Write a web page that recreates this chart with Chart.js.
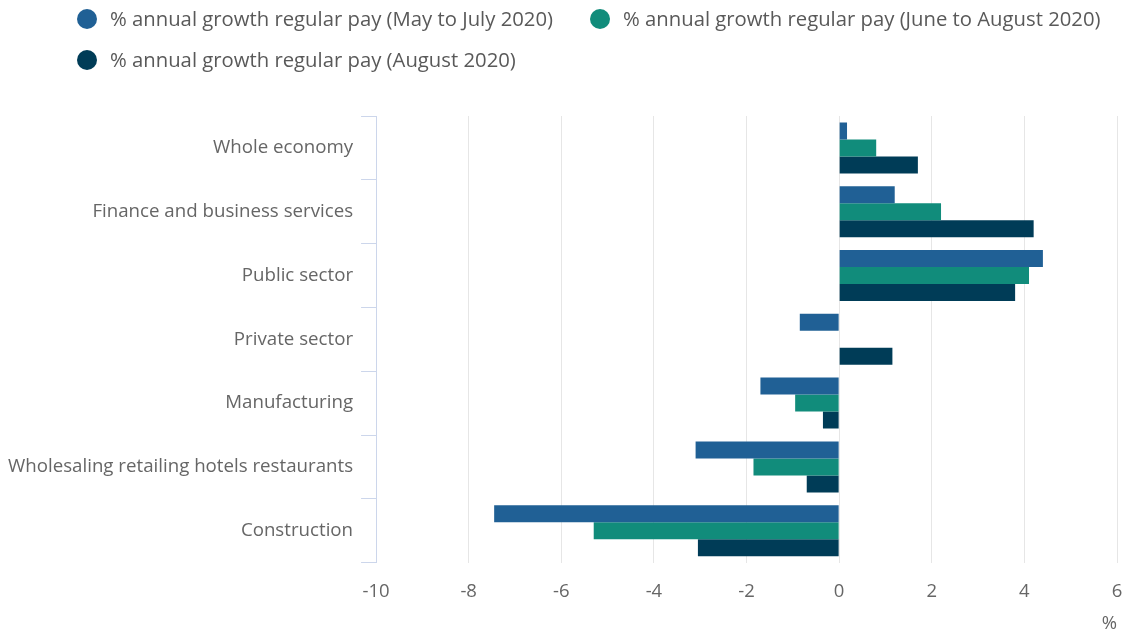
<!DOCTYPE html>
<html>
<head>
<meta charset="utf-8">
<script src="https://cdn.jsdelivr.net/npm/chart.js@4/dist/chart.umd.min.js"></script>
<style>
  html, body { margin: 0; padding: 0; background: #fff; }
  #wrap { width: 1126px; height: 635px; }
</style>
</head>
<body>
<div id="wrap"><canvas id="payChart"></canvas></div>
<script>
const sectors = [
  "Whole economy",
  "Finance and business services",
  "Public sector",
  "Private sector",
  "Manufacturing",
  "Wholesaling retailing hotels restaurants",
  "Construction"
];
const mayToJuly = [0.17, 1.2, 4.4, -0.85, -1.7, -3.1, -7.45];
const juneToAugust = [0.8, 2.2, 4.1, null, -0.95, -1.85, -5.3];
const august = [1.7, 4.2, 3.8, 1.15, -0.35, -0.7, -3.05];
const xTicks = [-10, -8, -6, -4, -2, 0, 2, 4, 6];

const FONT = "'Open Sans', sans-serif";
const TEXT = "#666666";

// legend drawn by hand: round markers, wide gaps between items, wraps to a new row
const dotLegend = {
  id: "dotLegend",
  afterDraw(chart, args, opts) {
    const ctx = chart.ctx;
    ctx.save();
    ctx.font = `${opts.fontSize}px ${FONT}`;
    ctx.textBaseline = "middle";
    let x = opts.x;
    let y = opts.y;
    chart.data.datasets.forEach((ds, i) => {
      const w = opts.textOffset + ctx.measureText(ds.label).width;
      if (i > 0 && x + w > chart.width - 10) {
        x = opts.x;
        y += opts.rowHeight;
      }
      ctx.beginPath();
      ctx.arc(x, y, opts.radius, 0, Math.PI * 2);
      ctx.fillStyle = ds.backgroundColor;
      ctx.fill();
      ctx.fillStyle = opts.color;
      ctx.fillText(ds.label, x + opts.textOffset, y + 1);
      x += w + opts.gap;
    });
    ctx.restore();
  }
};

new Chart(document.getElementById("payChart"), {
  type: "bar",
  data: {
    labels: sectors,
    datasets: [
      { label: "% annual growth regular pay (May to July 2020)", data: mayToJuly, backgroundColor: "#206095" },
      { label: "% annual growth regular pay (June to August 2020)", data: juneToAugust, backgroundColor: "#118c7b" },
      { label: "% annual growth regular pay (August 2020)", data: august, backgroundColor: "#003c57" }
    ]
  },
  options: {
    indexAxis: "y",
    responsive: true,
    maintainAspectRatio: false,
    animation: false,
    categoryPercentage: 0.8,
    barPercentage: 1,
    layout: { padding: { left: 0, right: 9, top: 116, bottom: 0 } },
    scales: {
      x: {
        min: xTicks[0],
        max: xTicks[xTicks.length - 1],
        afterBuildTicks: axis => { axis.ticks = xTicks.map(v => ({ value: v })); },
        // invisible tick marks keep the labels clear of the plot
        grid: { color: "#e6e6e6", tickLength: 18, tickColor: "rgba(0,0,0,0)" },
        border: { display: false },
        ticks: { color: TEXT, font: { family: FONT, size: 18.5 }, padding: 0 },
        title: {
          display: true, text: "%", align: "end",
          color: TEXT, font: { family: FONT, size: 18.5 }, padding: { top: 10, bottom: 0 }
        }
      },
      y: {
        grid: { drawOnChartArea: false, color: "#ccd6eb", tickLength: 15 },
        border: { color: "#ccd6eb" },
        ticks: { color: TEXT, font: { family: FONT, size: 18.7 }, padding: 8 }
      }
    },
    plugins: {
      legend: { display: false },
      tooltip: { enabled: false },
      dotLegend: {
        x: 87, y: 19, rowHeight: 41, radius: 10,
        textOffset: 23, gap: 47, fontSize: 20.3, color: "#595959"
      }
    }
  },
  plugins: [dotLegend]
});
</script>
</body>
</html>
